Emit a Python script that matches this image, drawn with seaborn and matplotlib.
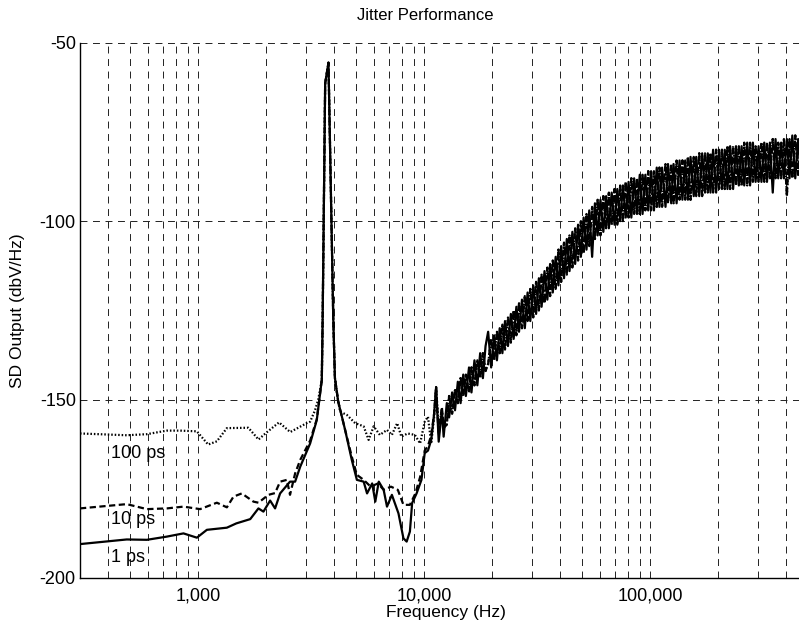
import numpy as np
import pandas as pd
import seaborn as sns
import matplotlib.pyplot as plt
from matplotlib.ticker import FixedLocator, FixedFormatter, LogLocator, NullFormatter

# values (Hz, dBV/Hz)
freq_1ps = [300, 483, 593, 727, 861, 987, 1093, 1340, 1475, 1700, 1848, 1945, 2082,
            2190, 2305, 2550, 2686, 2830, 3130, 3350, 3525, 3555, 3648, 3773, 3964,
            4030, 4165, 4470, 4785, 5040, 5400, 5590, 5890, 6080, 6300, 6620, 6850,
            7200, 7700, 8100, 8370, 8650, 8850, 9260, 9730, 10060, 10400, 10750,
            11070, 11300, 11600, 11980, 12200]
sd_1ps = [-190.5, -189.2, -189.3, -188.4, -187.5, -188.7, -186.5, -185.9, -184.7,
          -183.5, -180.5, -181.4, -178.3, -180.5, -176.3, -173.0, -173.0, -168.8,
          -162.3, -155.7, -144.5, -128.0, -61.4, -55.6, -128.0, -144.0, -150.5,
          -158.5, -166.9, -172.5, -173.0, -176.3, -173.5, -178.6, -173.0, -175.3,
          -180.0, -176.7, -181.9, -188.9, -189.8, -187.0, -179.0, -176.3, -172.5,
          -165.0, -164.3, -161.3, -154.0, -146.5, -161.8, -153.0, -160.4]

freq_10ps = [300, 483, 593, 727, 861, 1020, 1210, 1340, 1433, 1560, 1757, 1848, 2045,
             2190, 2305, 2470, 2550, 2686, 2830, 3130, 3350, 3525, 3555, 3648, 3773,
             3964, 4030, 4165, 4470, 4785, 5040, 5400, 5800, 6250, 6620, 7130, 7650,
             8100, 8650, 9150, 9600, 10060, 10400, 10750, 11070, 11300, 11600, 11980,
             12200]
sd_10ps = [-180.5, -179.3, -180.7, -180.5, -180.0, -180.7, -178.9, -180.2, -177.2,
           -176.3, -178.6, -178.9, -176.7, -176.2, -173.0, -172.5, -176.7, -170.7,
           -166.9, -161.5, -155.5, -144.5, -128.0, -61.4, -55.6, -128.0, -144.0,
           -150.5, -158.5, -166.0, -171.1, -172.5, -174.4, -173.5, -175.3, -174.4,
           -175.3, -179.5, -179.5, -176.3, -171.7, -164.3, -163.0, -160.0, -154.0,
           -146.5, -160.0, -152.0, -158.0]

freq_100ps = [300, 483, 593, 727, 832, 987, 1107, 1210, 1340, 1668, 1850, 2000, 2280,
              2555, 2830, 3025, 3130, 3290, 3400, 3525, 3555, 3648, 3773, 3964, 4030,
              4165, 4250, 4550, 4950, 5400, 5680, 5980, 6370, 6850, 7200, 7600, 7930,
              8450, 9100, 9600, 10060, 10400, 10750, 11070, 11300, 11600, 11980, 12200]
sd_100ps = [-159.5, -160.0, -159.7, -158.7, -158.7, -158.9, -162.6, -161.7, -158.0,
            -157.9, -161.2, -159.3, -156.4, -159.1, -157.6, -156.6, -156.2, -153.0,
            -150.0, -144.5, -128.0, -61.4, -55.6, -128.0, -144.0, -150.5, -153.4,
            -154.3, -156.6, -157.5, -161.3, -157.5, -159.9, -158.5, -159.9, -156.6,
            -160.4, -159.5, -159.9, -162.3, -156.2, -154.8, -162.3, -155.0, -146.5,
            -158.0, -153.0, -157.0]

# noisy high-frequency band: upper / lower edges read at each frequency
band_freq = [12600, 12900, 13300, 13700, 14100, 14500, 14900, 15300, 15800, 16200,
             16700, 17200, 17700, 18200, 18700, 19200, 19800, 20400, 21000, 21600,
             22200, 22800, 23500, 24200, 24900, 25600, 26300, 27100, 27900, 28700,
             29500, 30400, 31300, 32200, 33100, 34100, 35100, 36100, 37100, 38200,
             39300, 40400, 41600, 42800, 44000, 45300, 46600, 48000, 49400, 50800,
             52300, 53800, 55400, 57000, 58600, 60300, 62100, 63900, 65700, 67600,
             69600, 71600, 73700, 75800, 78000, 80300, 82600, 85000, 87500, 90000,
             92600, 95300, 98100, 101000, 104000, 107000, 110000, 113000, 117000, 120000,
             124000, 127000, 131000, 135000, 139000, 143000, 147000, 151000, 156000, 160000,
             165000, 170000, 175000, 180000, 185000, 190000, 196000, 202000, 208000, 214000,
             220000, 226000, 233000, 240000, 247000, 254000, 261000, 269000, 277000, 285000,
             293000, 302000, 311000, 320000, 329000, 339000, 349000, 359000, 369000, 380000,
             391000, 403000, 414000, 426000, 439000, 452000, 465000]
band_a = [-151, -155, -148, -153, -145, -151, -143, -149, -141, -148,
          -139, -146, -137, -144, -135, -131, -141, -132, -139, -130,
          -137, -128, -135, -126, -133, -124, -131, -122, -130, -120,
          -128, -118, -126, -116, -124, -114, -122, -112, -120, -110,
          -118, -107, -116, -105, -114, -103, -112, -101, -110, -99,
          -108, -97, -110, -95, -104, -94, -103, -93, -102, -92,
          -101, -91, -100, -90, -99, -89, -99, -88, -98, -87,
          -98, -87, -97, -86, -97, -85, -96, -85, -96, -84,
          -95, -84, -95, -83, -94, -83, -94, -82, -93, -82,
          -93, -81, -92, -81, -92, -80, -92, -80, -91, -80,
          -91, -79, -91, -79, -90, -79, -90, -78, -90, -78,
          -89, -79, -89, -78, -89, -78, -92, -77, -88, -78,
          -88, -77, -88, -76, -88, -77, -87]
band_b = [-157, -149, -154, -147, -151, -144, -149, -143, -148, -141,
          -146, -139, -144, -137, -142, -140, -133, -139, -131, -137,
          -129, -136, -127, -134, -125, -132, -123, -130, -121, -128,
          -119, -127, -117, -125, -115, -123, -113, -121, -111, -119,
          -108, -117, -106, -115, -104, -113, -102, -111, -100, -109,
          -98, -107, -96, -105, -94, -104, -93, -102, -92, -101,
          -91, -101, -90, -100, -89, -99, -88, -98, -88, -98,
          -87, -97, -86, -97, -86, -96, -85, -96, -84, -95,
          -84, -95, -83, -94, -83, -94, -82, -94, -82, -93,
          -81, -93, -81, -92, -81, -92, -80, -91, -80, -91,
          -79, -91, -79, -90, -79, -90, -78, -90, -78, -89,
          -79, -89, -78, -89, -78, -88, -77, -88, -78, -88,
          -77, -93, -77, -88, -76, -87, -77]

series_names = ['1 ps', '10 ps', '100 ps']
label_x = 411
label_y = [-195.4, -184.9, -166.4]

xtick_values = [1000, 10000, 100000]
xtick_labels = ['1,000', '10,000', '100,000']
ytick_values = [-200, -150, -100, -50]

parts = [
    (freq_100ps + band_freq, sd_100ps + band_b, '100 ps'),
    (freq_10ps + band_freq, sd_10ps + band_b, '10 ps'),
    (freq_1ps + band_freq, sd_1ps + band_a, '1 ps'),
]
df = pd.concat([pd.DataFrame({'freq': f, 'sd': v, 'series': s}) for f, v, s in parts],
               ignore_index=True)

sns.set_theme(style='white')
plt.rcParams['font.family'] = ['Liberation Sans', 'DejaVu Sans']
plt.rcParams['lines.scale_dashes'] = False

fig = plt.figure(figsize=(7.99, 6.29), dpi=100)
ax = fig.add_axes([80 / 799, 1 - 578 / 629, 719 / 799, (578 - 42.7) / 629])

sns.lineplot(data=df, x='freq', y='sd', hue='series', style='series',
             hue_order=series_names, style_order=series_names,
             palette={s: 'black' for s in series_names},
             dashes={'1 ps': '', '10 ps': (4.5, 2.5), '100 ps': (1.1, 1.4)},
             estimator=None, sort=False, linewidth=1.6, legend=False, ax=ax)

ax.set_xscale('log')
ax.set_xlim(300, 456000)
ax.set_ylim(-200, -50)

ax.xaxis.set_major_locator(FixedLocator(xtick_values))
ax.xaxis.set_major_formatter(FixedFormatter(xtick_labels))
ax.xaxis.set_minor_locator(LogLocator(base=10, subs=np.arange(2, 10)))
ax.xaxis.set_minor_formatter(NullFormatter())
ax.set_yticks(ytick_values)
ax.set_yticklabels([str(v) for v in ytick_values])

ax.set_axisbelow(True)
ax.grid(True, which='both', axis='both', color='#222222',
        linestyle=(0, (5, 4)), linewidth=0.7)

ax.tick_params(axis='both', which='both', direction='in', colors='black',
               labelsize=13, width=0.8, top=False, right=False)
ax.tick_params(axis='x', which='major', length=5, pad=7)
ax.tick_params(axis='x', which='minor', length=4)
ax.tick_params(axis='y', which='major', length=5, pad=3)

for side in ['top', 'right']:
    ax.spines[side].set_visible(False)
for side in ['left', 'bottom']:
    ax.spines[side].set_color('black')
    ax.spines[side].set_linewidth(1.0)

for name, y in zip(series_names, label_y):
    ax.text(label_x, y, name, ha='left', va='baseline', fontsize=13, color='black')

ax.set_xlabel('')
ax.set_ylabel('')
fig.text(425.5 / 799, 1 - 15 / 629, 'Jitter Performance', ha='center', va='center',
         fontsize=12, color='black')
fig.text(446 / 799, 1 - 612 / 629, 'Frequency (Hz)', ha='center', va='center',
         fontsize=12.5, color='black')
fig.text(18 / 799, 1 - 311 / 629, 'SD Output (dbV/Hz)', ha='center', va='center',
         rotation=90, fontsize=12.5, color='black')

fig.savefig('out.png', dpi=100)
